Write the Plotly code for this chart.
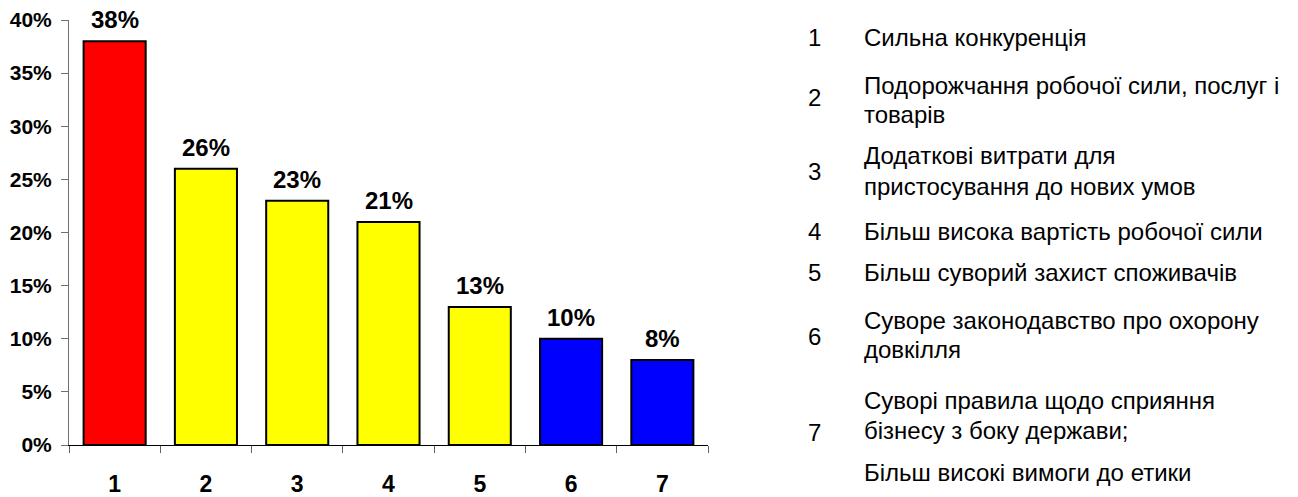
import plotly.graph_objects as go

categories = ["1", "2", "3", "4", "5", "6", "7"]
values = [38, 26, 23, 21, 13, 10, 8]
bar_colors = ["#FF0000", "#FFFF00", "#FFFF00", "#FFFF00", "#FFFF00", "#0000FF", "#0000FF"]
y_ticks = [0, 5, 10, 15, 20, 25, 30, 35, 40]
y_tick_labels = ["0%", "5%", "10%", "15%", "20%", "25%", "30%", "35%", "40%"]

legend_numbers = ["1", "2", "3", "4", "5", "6", "7"]
legend_texts = [
    ["Сильна конкуренція"],
    ["Подорожчання робочої сили, послуг і", "товарів"],
    ["Додаткові витрати для", "пристосування до нових умов"],
    ["Більш висока вартість робочої сили"],
    ["Більш суворий захист споживачів"],
    ["Суворе законодавство про охорону", "довкілля"],
    ["Суворі правила щодо сприяння", "бізнесу з боку держави;", "Більш високі вимоги до етики"],
]

# layout: the page body adds an 8px offset, so the figure is made 8px smaller
OFF = 8
W, H = 1298 - OFF, 497 - OFF
L, R, T, B = 69 - OFF, 708 - OFF, 20 - OFF, 445 - OFF
num_x_px = 814 - OFF
text_x_px = 862 - OFF
line_y_px = [
    [37],
    [86, 115],
    [155, 186],
    [231],
    [272],
    [320, 349],
    [400, 430, 472],
]
num_y_px = [37, 98, 171, 231, 272, 336, 432]

FONT = "Liberation Sans, Arial, sans-serif"

def px_x(p):
    return (p - L) / (R - L)

def px_y(p):
    return (B - (p - OFF)) / (B - T)

fig = go.Figure()
fig.add_trace(go.Bar(
    x=categories, y=values,
    marker=dict(color=bar_colors, line=dict(color="#000000", width=2)),
    hoverinfo="skip",
))

annotations = []
for i, v in enumerate(values):
    annotations.append(dict(
        x=i, y=v, xref="x", yref="y", text=f"{v}%", showarrow=False,
        yanchor="bottom", yshift=6,
        font=dict(family=FONT, size=24, color="#000000", weight="bold"),
    ))

for i, num in enumerate(legend_numbers):
    annotations.append(dict(
        x=px_x(num_x_px), y=px_y(num_y_px[i]), xref="paper", yref="paper",
        text=num, showarrow=False, xanchor="center", yanchor="middle",
        font=dict(family=FONT, size=24, color="#000000"),
    ))
    for line, ly in zip(legend_texts[i], line_y_px[i]):
        annotations.append(dict(
            x=px_x(text_x_px), y=px_y(ly), xref="paper", yref="paper",
            text=line, showarrow=False, xanchor="left", yanchor="middle",
            font=dict(family=FONT, size=24, color="#000000"),
        ))

fig.update_layout(
    width=W, height=H,
    margin=dict(l=L, r=W - R, t=T, b=H - B, pad=0, autoexpand=False),
    paper_bgcolor="white", plot_bgcolor="white",
    bargap=0.32,
    showlegend=False,
    annotations=annotations,
    xaxis=dict(
        type="category", range=[-0.5, 6.5], automargin=False,
        showgrid=False, zeroline=False,
        showline=True, linecolor="#000000", linewidth=1,
        ticks="outside", tickson="boundaries", ticklen=7, tickcolor="#606060",
        ticklabelstandoff=18,
        tickfont=dict(family=FONT, size=23, color="#000000", weight="bold"),
    ),
    yaxis=dict(
        range=[0, 40], tickvals=y_ticks, ticktext=y_tick_labels, automargin=False,
        showgrid=False, zeroline=False,
        showline=True, linecolor="#707070", linewidth=1,
        ticks="outside", ticklen=7, tickcolor="#707070",
        ticklabelstandoff=5,
        tickfont=dict(family=FONT, size=21, color="#000000", weight="bold"),
    ),
)

fig.write_html("out.html")
